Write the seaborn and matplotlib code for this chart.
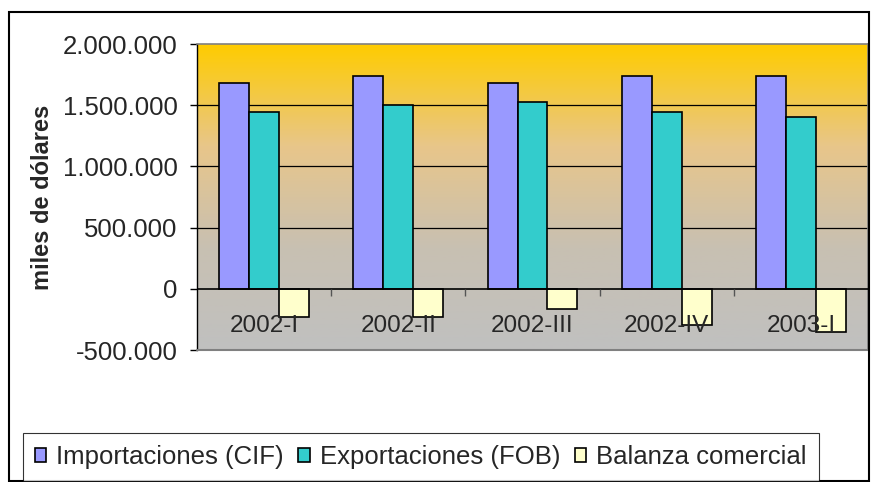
import numpy as np
import pandas as pd
import matplotlib as mpl
import matplotlib.pyplot as plt
from matplotlib.colors import LinearSegmentedColormap
from matplotlib.ticker import FuncFormatter, FixedLocator
import seaborn as sns

# datos (miles de dólares)
periodos = ['2002-I', '2002-II', '2002-III', '2002-IV', '2003-I']
importaciones = [1680000, 1738000, 1680000, 1740000, 1740000]
exportaciones = [1443000, 1505000, 1530000, 1443000, 1400000]
balanza = [-230000, -232000, -168000, -298000, -350000]
series = ['Importaciones (CIF)', 'Exportaciones (FOB)', 'Balanza comercial']
colores = ['#9999FF', '#33CCCC', '#FFFFCC']

df = pd.DataFrame({
    'periodo': periodos * 3,
    'serie': [series[0]] * 5 + [series[1]] * 5 + [series[2]] * 5,
    'valor': importaciones + exportaciones + balanza,
})

sns.set_style('white')
plt.rcParams['font.family'] = ['Liberation Sans', 'DejaVu Sans']

fig = plt.figure(figsize=(8.72, 4.82), dpi=100)
ax = fig.add_axes([197 / 872, 1 - 350 / 482, 671 / 872, 306 / 482])

# fondo degradado del área de trazado
cmap = LinearSegmentedColormap.from_list('fondo', ['#FFCC00', '#E8C68A', '#C8C0B2', '#C0C0C0'])
grad = np.linspace(0, 1, 256).reshape(-1, 1)
ax.imshow(grad, cmap=cmap, aspect='auto', extent=[0, 1, 0, 1],
          transform=ax.transAxes, zorder=0)

sns.barplot(data=df, x='periodo', y='valor', hue='serie', palette=colores,
            saturation=1, width=0.67, edgecolor='black', linewidth=1.2,
            ax=ax, zorder=3)

ax.set_ylim(-500000, 2000000)
ax.set_xlim(-0.5, 4.5)
ax.set_yticks(np.arange(-500000, 2000001, 500000))
ax.yaxis.set_major_formatter(FuncFormatter(lambda v, p: f'{v:,.0f}'.replace(',', '.')))
for y in [500000, 1000000, 1500000]:
    ax.axhline(y, color='black', linewidth=0.9, zorder=1)
ax.axhline(0, color='black', linewidth=1.2, zorder=4)

ax.set_xlabel('')
ax.set_ylabel('miles de dólares', fontsize=17, fontweight='bold', labelpad=6)
ax.tick_params(axis='y', labelsize=18.5, direction='out', length=5, width=1,
               color='black', left=True, pad=9)
ax.tick_params(axis='x', which='major', labelsize=17.5, length=0, pad=19)
ax.xaxis.set_minor_locator(FixedLocator([0.5, 1.5, 2.5, 3.5]))
ax.tick_params(axis='x', which='minor', direction='out', length=5, width=1,
               color='#555555', bottom=True)
ax.xaxis.set_zorder(10)
ax.spines['bottom'].set_position(('data', 0))
ax.spines['bottom'].set_visible(False)
for s in ['top', 'right']:
    ax.spines[s].set_color('#808080')
    ax.spines[s].set_linewidth(1.2)
ax.spines['left'].set_color('black')
ax.spines['left'].set_linewidth(1)
# borde inferior del área
ax.plot([0, 1], [0, 0], transform=ax.transAxes, color='#808080', linewidth=1.5, clip_on=False, zorder=5)

handles, labels = ax.get_legend_handles_labels()
ax.get_legend().remove()
leg = fig.legend(handles, labels, loc='center left', ncol=3,
                 bbox_to_anchor=(23 / 872, 1 - 457 / 482), borderaxespad=0,
                 fontsize=18.5, frameon=True, fancybox=False, edgecolor='black',
                 handlelength=0.45, handleheight=0.45, handletextpad=0.4,
                 columnspacing=0.55, borderpad=0.45)
leg.get_frame().set_linewidth(0.8)

# marco del gráfico
fig.patches.append(mpl.patches.Rectangle((9 / 872, 0.002), 860 / 872, 1 - 12 / 482 - 0.002,
                                         transform=fig.transFigure, fill=False,
                                         edgecolor='black', linewidth=1.5))

fig.savefig('out.png', dpi=100)
